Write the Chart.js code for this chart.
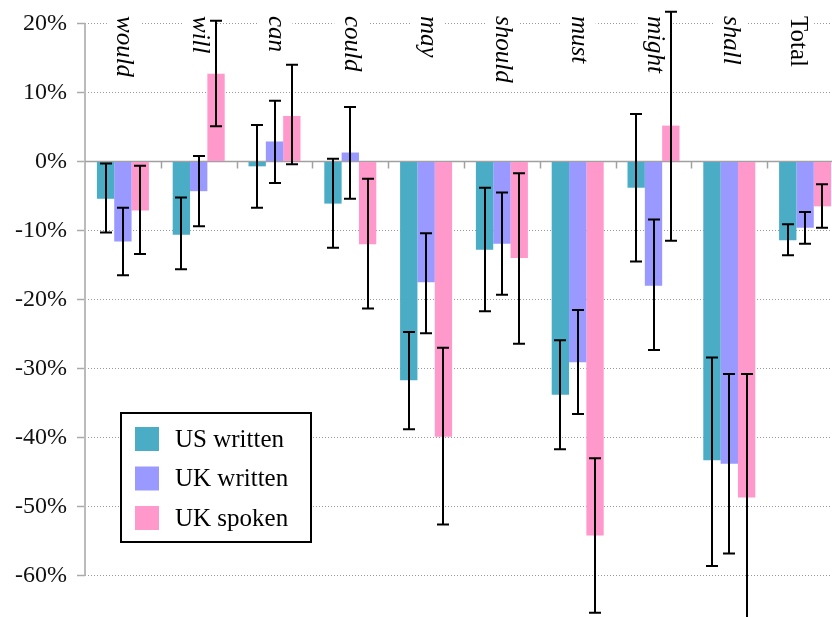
<!DOCTYPE html>
<html>
<head>
<meta charset="utf-8">
<script src="https://cdn.jsdelivr.net/npm/chart.js@4/dist/chart.umd.min.js"></script>
<style>
  html, body { margin: 0; padding: 0; overflow: hidden; background: #fff; }
  canvas { display: block; }
</style>
</head>
<body>
<canvas id="chart" width="843" height="617"></canvas>
<script>
// modal verbs, change in frequency
var categories = ['would', 'will', 'can', 'could', 'may', 'should', 'must', 'might', 'shall', 'Total'];
var seriesNames = ['US written', 'UK written', 'UK spoken'];

var usWritten     = [-5.4, -10.6, -0.7, -6.1, -31.7, -12.8, -33.8, -3.8, -43.3, -11.4];
var usWrittenLow  = [-10.3, -15.6, -6.7, -12.5, -38.8, -21.7, -41.7, -14.5, -58.6, -13.6];
var usWrittenHigh = [-0.3, -5.2, 5.3, 0.4, -24.7, -3.8, -25.9, 6.9, -28.4, -9.1];

var ukWritten     = [-11.6, -4.3, 2.9, 1.3, -17.5, -11.9, -29.1, -18.0, -43.8, -9.6];
var ukWrittenLow  = [-16.5, -9.4, -3.1, -5.4, -24.9, -19.3, -36.6, -27.3, -56.8, -11.9];
var ukWrittenHigh = [-6.7, 0.8, 8.8, 7.9, -10.4, -4.5, -21.5, -8.4, -30.8, -7.3];

var ukSpoken      = [-7.1, 12.7, 6.6, -12.0, -39.9, -14.0, -54.2, 5.2, -48.7, -6.5];
var ukSpokenLow   = [-13.4, 5.1, -0.4, -21.3, -52.6, -26.4, -65.4, -11.5, -66.6, -9.6];
var ukSpokenHigh  = [-0.6, 20.4, 14.0, -2.5, -27.0, -1.7, -43.0, 21.7, -30.8, -3.3];

var yTicks = [-60, -50, -40, -30, -20, -10, 0, 10, 20];

var colors = ['#4bacc6', '#9999ff', '#ff99cc'];
var serif = "'Liberation Serif', 'Times New Roman', serif";
Chart.defaults.font.family = serif;

// zero line, y axis line, category ticks, labels on top
var decorPlugin = {
  id: 'decor',
  beforeDatasetsDraw: function(chart) {
    var ctx = chart.ctx, x = chart.scales.x, y = chart.scales.y, area = chart.chartArea;
    var y0 = y.getPixelForValue(0);
    ctx.save();
    // axis line only from -60 to 20
    ctx.strokeStyle = '#bbb';
    ctx.lineWidth = 2;
    ctx.beginPath();
    ctx.moveTo(area.left, y.getPixelForValue(yTicks[0]));
    ctx.lineTo(area.left, y.getPixelForValue(yTicks[yTicks.length - 1]));
    ctx.stroke();
    // zero line
    ctx.strokeStyle = '#a0a0a0';
    ctx.lineWidth = 1.5;
    ctx.beginPath();
    ctx.moveTo(area.left, y0);
    ctx.lineTo(area.right, y0);
    ctx.stroke();
    // category boundary ticks
    for (var i = 0; i < categories.length - 1; i++) {
      var bx = Math.round((x.getPixelForValue(i) + x.getPixelForValue(i + 1)) / 2) + 0.5;
      ctx.beginPath();
      ctx.moveTo(bx, y0);
      ctx.lineTo(bx, y0 + 7);
      ctx.stroke();
    }
    // category labels, rotated, white box behind
    for (var j = 0; j < categories.length; j++) {
      var name = categories[j];
      var cx = x.getPixelForValue(j) + 1;
      if (name === 'Total') cx -= 9;
      ctx.font = (name === 'Total' ? '' : 'italic ') + '25px ' + serif;
      var m = ctx.measureText(name);
      ctx.save();
      ctx.translate(cx, 16);
      ctx.rotate(Math.PI / 2);
      ctx.textAlign = 'left';
      ctx.textBaseline = 'middle';
      ctx.fillStyle = '#fff';
      ctx.fillRect(-3, -17, m.width + 6, 34);
      ctx.fillStyle = '#000';
      ctx.fillText(name, 0, 0);
      ctx.restore();
    }
    ctx.restore();
  },
  afterDatasetsDraw: function(chart) {
    var ctx = chart.ctx, y = chart.scales.y;
    var lows = [usWrittenLow, ukWrittenLow, ukSpokenLow];
    var highs = [usWrittenHigh, ukWrittenHigh, ukSpokenHigh];
    ctx.save();
    ctx.strokeStyle = '#000';
    ctx.lineWidth = 2;
    chart.data.datasets.forEach(function(ds, d) {
      var meta = chart.getDatasetMeta(d);
      meta.data.forEach(function(bar, i) {
        var bx = Math.round(bar.x);
        var yl = y.getPixelForValue(lows[d][i]);
        var yh = y.getPixelForValue(highs[d][i]);
        ctx.beginPath();
        ctx.moveTo(bx, yl); ctx.lineTo(bx, yh);
        ctx.moveTo(bx - 6, yl); ctx.lineTo(bx + 6, yl);
        ctx.moveTo(bx - 6, yh); ctx.lineTo(bx + 6, yh);
        ctx.stroke();
      });
    });
    ctx.restore();
  },
  afterDraw: function(chart) {
    // boxed legend inside the plot
    var ctx = chart.ctx;
    ctx.save();
    ctx.fillStyle = '#fff';
    ctx.fillRect(121, 413, 190, 129);
    ctx.strokeStyle = '#000';
    ctx.lineWidth = 2;
    ctx.strokeRect(121, 413, 190, 129);
    ctx.font = '25px ' + serif;
    ctx.textAlign = 'left';
    ctx.textBaseline = 'middle';
    chart.data.datasets.forEach(function(ds, d) {
      var top = 427 + d * 39.5;
      ctx.fillStyle = ds.backgroundColor;
      ctx.fillRect(135, top, 24, 24);
      ctx.fillStyle = '#000';
      ctx.fillText(ds.label, 175, top + 13);
    });
    ctx.restore();
  }
};

var ctx = document.getElementById('chart').getContext('2d');
var chart = new Chart(ctx, {
  type: 'bar',
  data: {
    labels: categories,
    datasets: [
      { label: seriesNames[0], data: usWritten, backgroundColor: colors[0] },
      { label: seriesNames[1], data: ukWritten, backgroundColor: colors[1] },
      { label: seriesNames[2], data: ukSpoken, backgroundColor: colors[2] }
    ]
  },
  options: {
    responsive: false,
    animation: false,
    layout: { padding: 0 },
    categoryPercentage: 0.686,
    barPercentage: 1.0,
    borderWidth: 0,
    plugins: {
      legend: { display: false },
      tooltip: { enabled: false }
    },
    scales: {
      x: { display: false },
      y: {
        min: -66,
        max: 23.4,
        afterBuildTicks: function(axis) {
          axis.ticks = yTicks.map(function(v) { return { value: v }; });
        },
        afterFit: function(axis) {
          axis.width = 85;
          axis.paddingTop = 0;
          axis.paddingBottom = 0;
        },
        border: { display: false, dash: [1, 2] },
        grid: {
          color: '#999',
          lineWidth: 1,
          tickLength: 8,
          tickColor: '#aaa',
          tickWidth: 1.5
        },
        ticks: {
          padding: 10,
          color: '#111',
          font: { family: serif, size: 24 },
          callback: function(v) { return v + '%'; }
        }
      }
    }
  },
  plugins: [decorPlugin]
});
</script>
</body>
</html>
